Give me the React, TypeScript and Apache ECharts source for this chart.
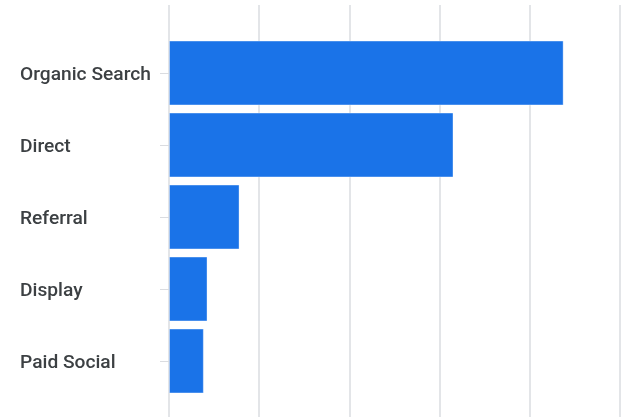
import React, { useEffect, useRef } from "react";
import * as echarts from "echarts";

const categories = ["Organic Search", "Direct", "Referral", "Display", "Paid Social"];
const sessions = [4375, 3154, 782, 427, 386];
const axisMax = 5000;
const axisInterval = 1000;

export default function App() {
  const ref = useRef<HTMLDivElement>(null);
  useEffect(() => {
    document.body.style.margin = "0";
    const chart = echarts.init(ref.current!, undefined, { renderer: "svg" });
    chart.setOption({
      animation: false,
      grid: [
        { left: 169, right: 2, top: 37, bottom: 20, containLabel: false },
        { left: 169, right: 2, top: 5, bottom: -10, containLabel: false },
      ],
      xAxis: [
        {
          gridIndex: 0,
          type: "value",
          min: 0,
          max: axisMax,
          interval: axisInterval,
          axisLine: { show: false },
          axisTick: { show: false },
          axisLabel: { show: false },
          splitLine: { show: false },
        },
        {
          gridIndex: 1,
          type: "value",
          min: 0,
          max: axisMax,
          interval: axisInterval,
          axisLine: { show: false },
          axisTick: { show: false },
          axisLabel: { show: false },
          splitLine: { show: true, lineStyle: { color: "#dadce0", width: 1.5 } },
        },
      ],
      yAxis: [
        {
          gridIndex: 0,
          type: "category",
          data: categories,
          inverse: true,
          axisLine: { show: false },
          axisTick: { show: true, alignWithLabel: true, length: 9, lineStyle: { color: "#dadce0" } },
          axisLabel: {
            align: "left",
            margin: 149,
            color: "#3c4043",
            fontFamily: "Roboto",
            fontWeight: 500,
            fontSize: 19.2,
          },
        },
        { gridIndex: 1, type: "value", show: false, min: 0, max: 1 },
      ],
      series: [
        {
          type: "bar",
          xAxisIndex: 0,
          yAxisIndex: 0,
          data: sessions,
          barCategoryGap: "10%",
          itemStyle: { color: "#1a73e8", borderColor: "rgba(255,255,255,0.35)", borderWidth: 1 },
        },
      ],
    });
    return () => chart.dispose();
  }, []);
  return <div ref={ref} style={{ position: "fixed", left: 0, top: 0, width: 622, height: 417 }} />;
}
